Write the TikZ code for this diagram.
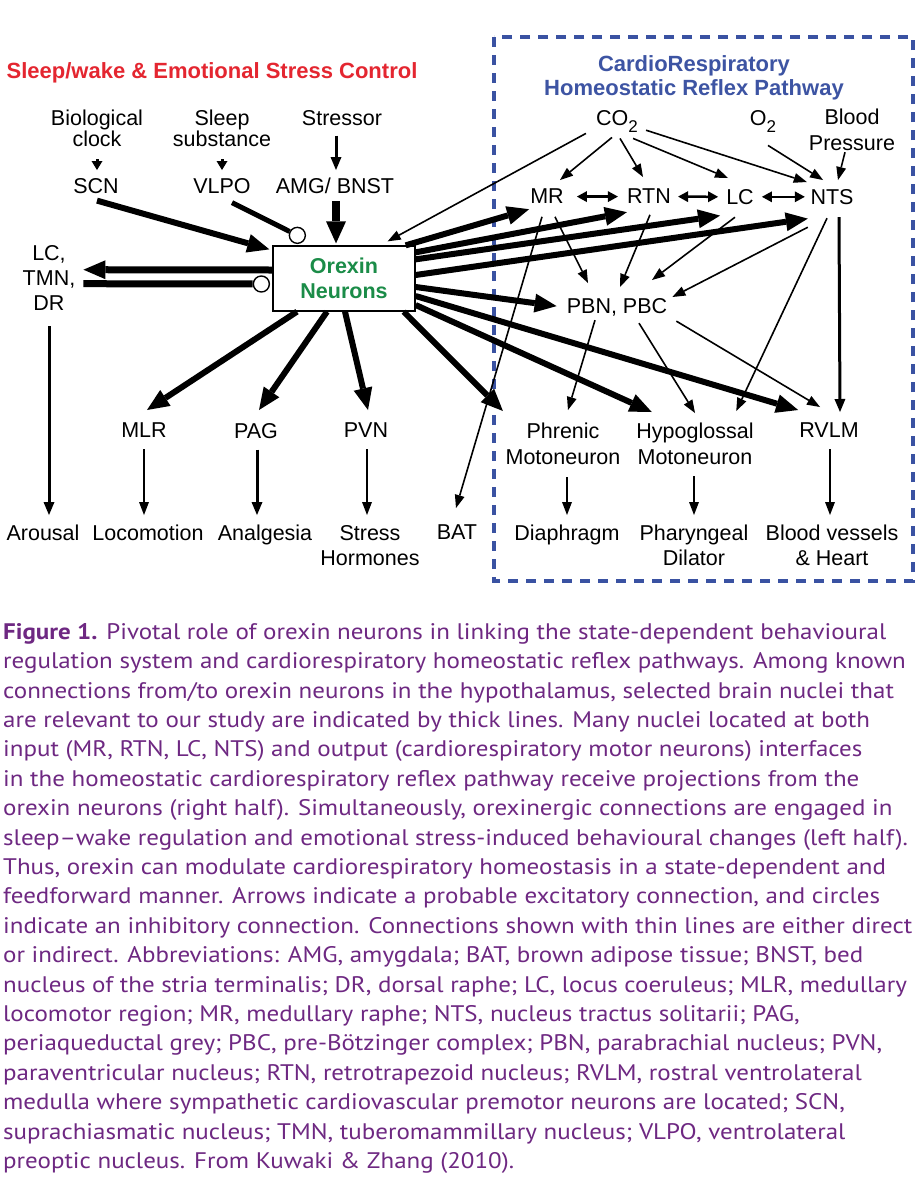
\documentclass[tikz,border=0pt]{standalone}
\usepackage{fontspec}
\setmainfont{Liberation Sans}
\newfontfamily\capfont[FakeStretch=1.11]{PT Sans}
\usetikzlibrary{arrows.meta,calc}
\definecolor{tred}{RGB}{228,38,48}
\definecolor{tblue}{RGB}{61,84,163}
\definecolor{boxblue}{RGB}{58,82,162}
\definecolor{tgreen}{RGB}{27,140,72}
\definecolor{cappurple}{RGB}{110,40,130}
\tikzset{
  lab/.style={font=\fontsize{21.5}{26}\selectfont, inner sep=0pt, anchor=north, align=center},
  labtight/.style={lab, font=\fontsize{21.5}{20}\selectfont},
  labmid/.style={lab, font=\fontsize{21.5}{25}\selectfont},
  bigarr/.style={line width=6pt, -{Triangle[length=22pt,width=19pt,line width=0pt]}},
  hugearr/.style={line width=8pt, -{Triangle[length=22pt,width=20pt,line width=0pt]}},
  midarr/.style={line width=3pt, -{Triangle[length=13pt,width=11pt,line width=0pt]}},
  smallarr/.style={line width=3pt, -{Triangle[length=9pt,width=11pt,line width=0pt]}},
  thinarr/.style={line width=1.6pt, -{Triangle[length=13pt,width=10pt,line width=0pt]}},
  dblarr/.style={line width=2.5pt, {Triangle[length=10pt,width=11pt,line width=0pt]}-{Triangle[length=10pt,width=11pt,line width=0pt]}},
  inhline/.style={line width=5pt},
  inhib/.style={circle, draw, line width=1.4pt, fill=white, minimum size=16pt, inner sep=0pt},
}
\begin{document}
\begin{tikzpicture}[x=1pt,y=-1pt]
\useasboundingbox (0,0) rectangle (924,1184);
\fill[white] (0,0) rectangle (924,1184);

% dashed frame of the cardiorespiratory pathway
\draw[boxblue, line width=4pt, dash pattern=on 10pt off 8pt] (494,37) rectangle (913,581);

% titles
\node[inner sep=0pt, anchor=north, text=tred, font=\bfseries\fontsize{22}{24}\selectfont] (ltitle) at (212,62) {Sleep/wake \& Emotional Stress Control};
\node[inner sep=0pt, anchor=north, align=center, text=tblue, font=\bfseries\fontsize{22}{24}\selectfont] (rtitle) at (694,55) {CardioRespiratory\\Homeostatic Reflex Pathway};

% left inputs
\node[labtight] (bioclock) at (97,110) {Biological\\clock};
\node[labtight] (sleepsub) at (222,110) {Sleep\\substance};
\node[lab] (stressor) at (342,110) {Stressor};
\node[lab] (scn) at (96,178) {SCN};
\node[lab] (vlpo) at (222,178) {VLPO};
\node[lab] (amg) at (335,178) {AMG/ BNST};
\node[labmid] (lctmn) at (49,245) {LC,\\TMN,\\DR};

% orexin box
\node[draw, line width=1.3pt, minimum width=142pt, minimum height=65pt, inner sep=0pt, align=center,
      text=tgreen, font=\bfseries\fontsize{21.5}{25}\selectfont] (orexin) at (344,278.5) {Orexin\\Neurons};
\node[inhib] (c1) at ($(orexin.north west)+(25,-10)$) {};
\node[inhib] (c2) at ($(orexin.west)+(-11,5.5)$) {};

% right inputs
\node[lab] (co2) at (617,110) {CO\raisebox{-7pt}{\fontsize{17}{17}\selectfont 2}};
\node[lab] (o2) at (763,110) {O\raisebox{-7pt}{\fontsize{17}{17}\selectfont 2}};
\node[lab] (bp) at (852,109) {Blood\\Pressure};
\node[lab] (mr) at (547,189) {MR};
\node[lab] (rtn) at (649,189) {RTN};
\node[lab] (lc) at (740,189) {LC};
\node[lab] (nts) at (832,189) {NTS};
\node[lab] (pbn) at (617,298) {PBN, PBC};

% targets
\node[lab] (mlr) at (144,423) {MLR};
\node[lab] (pag) at (256,423) {PAG};
\node[lab] (pvn) at (366,423) {PVN};
\node[lab] (phrenic) at (563,423) {Phrenic\\Motoneuron};
\node[lab] (hypo) at (695,423) {Hypoglossal\\Motoneuron};
\node[lab] (rvlm) at (829,423) {RVLM};

% outputs
\node[lab] (arousal) at (43,525) {Arousal};
\node[lab] (loco) at (148,525) {Locomotion};
\node[lab] (analg) at (265,525) {Analgesia};
\node[labmid] (stress) at (370,525) {Stress\\Hormones};
\node[lab] (bat) at (457,525) {BAT};
\node[lab] (diaph) at (567,525) {Diaphragm};
\node[labmid] (phar) at (694,525) {Pharyngeal\\Dilator};
\node[labmid] (bv) at (832,525) {Blood vessels\\\& Heart};

% left connectors
\draw[smallarr] ($(bioclock.south)+(0,12)$) -- ($(scn.north)+(1,-8)$);
\draw[smallarr] ($(sleepsub.south)+(0,12)$) -- ($(vlpo.north)+(0,-8)$);
\draw[midarr] ($(stressor.south)+(-6,10)$) -- ($(amg.north)+(1,-8)$);
\draw[bigarr] ($(scn.south)+(1,7)$) -- ($(orexin.north west)+(-3,4)$);
\draw[inhline] ($(vlpo.south)+(10,9)$) -- (c1);
\draw[hugearr] ($(amg.south)+(1,7)$) -- ($(orexin.north)+(-8,-2)$);
\draw[bigarr, line width=7pt] ($(orexin.west)+(0,-8.5)$) -- ($(lctmn.east)+(8,-8)$);
\draw[inhline, line width=7pt] ($(lctmn.east)+(8,6)$) -- (c2);
\draw[midarr] ($(lctmn.south)+(0,16)$) -- ($(arousal.north)+(6,-10)$);

% orexin outputs
\draw[bigarr] ($(orexin.south)+(-47,0)$) -- ($(mlr.north)+(3,-13)$);
\draw[bigarr] ($(orexin.south)+(-17,0)$) -- ($(pag.north)+(3,-13)$);
\draw[bigarr] ($(orexin.south)+(1,0)$) -- ($(pvn.north)+(2,-13)$);
\draw[bigarr] ($(orexin.south east)+(-12,0)$) -- ($(phrenic.north west)+(-2.5,-12)$);
\draw[bigarr] ($(orexin.east)+(0,26.5)$) -- ($(hypo.north west)+(15.5,-11)$);
\draw[bigarr] ($(orexin.east)+(0,17.5)$) -- ($(rvlm.north west)+(-1,-13)$);
\draw[bigarr] ($(orexin.east)+(0,8.5)$) -- ($(pbn.west)+(-10,-1)$);
\draw[bigarr] ($(orexin.north east)+(-10,0)$) -- ($(mr.south west)+(-1,5)$);
\draw[bigarr] ($(orexin.north east)+(0,7)$) -- ($(rtn.south west)+(0,8)$);
\draw[bigarr] ($(orexin.north east)+(0,14)$) -- ($(lc.south west)+(-6,11)$);
\draw[bigarr] ($(orexin.east)+(0,-3.5)$) -- ($(nts.south west)+(-2.5,14)$);

% reflex pathway connectors
\draw[thinarr] ($(co2.south west)+(-10,1)$) -- ($(orexin.north east)+(-28,-4)$);
\draw[thinarr] ($(co2.south)+(-5,5)$) -- ($(mr.north)+(13,-9)$);
\draw[thinarr] ($(co2.south)+(3,6)$) -- ($(rtn.north)+(-6,-12)$);
\draw[thinarr] ($(co2.south east)+(-5,6)$) -- ($(lc.north)+(-12,-11)$);
\draw[thinarr] ($(co2.east)+(8,9)$) -- ($(nts.north west)+(-3.5,-7)$);
\draw[thinarr] ($(o2.south)+(5,13)$) -- ($(nts.north)+(-9,-9)$);
\draw[thinarr] ($(bp.south)+(-7,1)$) -- ($(nts.north)+(6,-9)$);
\draw[dblarr] ($(mr.east)+(13,0)$) -- ($(rtn.west)+(-9,0)$);
\draw[dblarr] ($(rtn.east)+(7,0)$) -- ($(lc.west)+(-8,0)$);
\draw[dblarr] ($(lc.east)+(8,0)$) -- ($(nts.west)+(-5.5,0)$);
\draw[thinarr] ($(mr.south)+(-5,12.6)$) -- ($(bat.north)+(-1,-17)$);
\draw[thinarr] ($(mr.south)+(8,12.6)$) -- ($(pbn.north)+(-29,-15)$);
\draw[thinarr] ($(rtn.south)+(1,10.6)$) -- ($(pbn.north)+(3,-11)$);
\draw[thinarr] ($(lc.south)+(-5,12.6)$) -- ($(pbn.north)+(35,-18)$);
\draw[thinarr] ($(nts.south west)+(-2.5,22.6)$) -- ($(pbn.north east)+(5,-1)$);
\draw[thinarr] ($(nts.south)+(-5,13.6)$) -- ($(hypo.north east)+(-17.5,-12)$);
\draw[midarr] ($(nts.south)+(7,12.6)$) -- ($(rvlm.north)+(11,-11)$);
\draw[thinarr] ($(pbn.south)+(-22,4)$) -- ($(phrenic.north)+(5,-13)$);
\draw[thinarr] ($(pbn.south)+(22,7)$) -- ($(hypo.north)+(0,-10)$);
\draw[thinarr] ($(pbn.south east)+(9,5)$) -- ($(rvlm.north)+(-9,-16)$);

% bottom connectors
\draw[thinarr] ($(mlr.south)+(0,11)$) -- ($(loco.north)+(-4,-10)$);
\draw[midarr] ($(pag.south)+(1,11)$) -- ($(analg.north)+(-8,-10)$);
\draw[thinarr] ($(pvn.south)+(1,11)$) -- ($(stress.north)+(-3,-10)$);
\draw[thinarr] ($(phrenic.south)+(4,12)$) -- ($(diaph.north)+(0,-10)$);
\draw[thinarr] ($(hypo.south)+(-1,11)$) -- ($(phar.north)+(0,-10)$);
\draw[thinarr] ($(rvlm.south)+(1,11)$) -- ($(bv.north)+(-2,-10)$);

% caption
\node[inner sep=0pt, anchor=north west, align=left, text=cappurple,
      font=\capfont\fontsize{22.5}{29.4}\selectfont] (caption) at (3,623) {%
\textbf{Figure 1.} Pivotal role of orexin neurons in linking the state-dependent behavioural\\
regulation system and cardiorespiratory homeostatic reflex pathways. Among known\\
connections from/to orexin neurons in the hypothalamus, selected brain nuclei that\\
are relevant to our study are indicated by thick lines. Many nuclei located at both\\
input (MR, RTN, LC, NTS) and output (cardiorespiratory motor neurons) interfaces\\
in the homeostatic cardiorespiratory reflex pathway receive projections from the\\
orexin neurons (right half). Simultaneously, orexinergic connections are engaged in\\
sleep–wake regulation and emotional stress-induced behavioural changes (left half).\\
Thus, orexin can modulate cardiorespiratory homeostasis in a state-dependent and\\
feedforward manner. Arrows indicate a probable excitatory connection, and circles\\
indicate an inhibitory connection. Connections shown with thin lines are either direct\\
or indirect. Abbreviations: AMG, amygdala; BAT, brown adipose tissue; BNST, bed\\
nucleus of the stria terminalis; DR, dorsal raphe; LC, locus coeruleus; MLR, medullary\\
locomotor region; MR, medullary raphe; NTS, nucleus tractus solitarii; PAG,\\
periaqueductal grey; PBC, pre-Bötzinger complex; PBN, parabrachial nucleus; PVN,\\
paraventricular nucleus; RTN, retrotrapezoid nucleus; RVLM, rostral ventrolateral\\
medulla where sympathetic cardiovascular premotor neurons are located; SCN,\\
suprachiasmatic nucleus; TMN, tuberomammillary nucleus; VLPO, ventrolateral\\
preoptic nucleus. From Kuwaki \& Zhang (2010).};
\end{tikzpicture}
\end{document}
